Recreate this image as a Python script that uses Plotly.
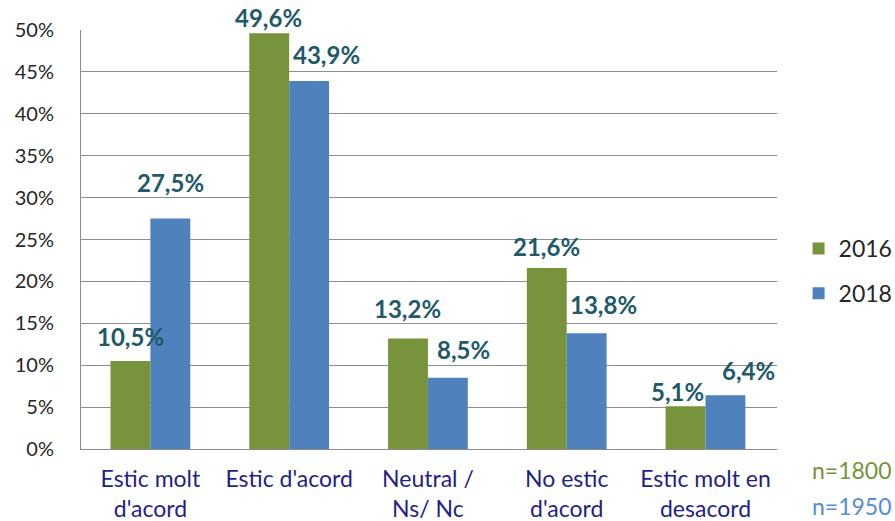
import plotly.graph_objects as go

categories = ["Estic molt<br>d'acord", "Estic d'acord", "Neutral /<br>Ns/ Nc",
              "No estic<br>d'acord", "Estic molt en<br>desacord"]
series_names = ["2016", "2018"]
values_2016 = [0.105, 0.496, 0.132, 0.216, 0.051]
values_2018 = [0.275, 0.439, 0.085, 0.138, 0.064]
labels_2016 = ["10,5%", "49,6%", "13,2%", "21,6%", "5,1%"]
labels_2018 = ["27,5%", "43,9%", "8,5%", "13,8%", "6,4%"]
sample_notes = ["n=1800", "n=1950"]

# label placement tweaks (pixels), styling only
dx_2016 = [0, -1, 0, 0, -8]
dy_2016 = [13, 4, 18, 10, 3]
dx_2018 = [0, 17, 16, 17, 23]
dy_2018 = [25, 15, 17, 17, 13]

GREEN = "#77933C"
BLUE = "#4F81BD"
LABEL = "#215968"
FONT = "Lato, 'Open Sans', sans-serif"

fig = go.Figure()
fig.add_trace(go.Bar(name=series_names[0], x=categories, y=values_2016,
                     marker=dict(color=GREEN, line=dict(width=0)), legendgroup="a"))
fig.add_trace(go.Bar(name=series_names[1], x=categories, y=values_2018,
                     marker=dict(color=BLUE, line=dict(width=0)), legendgroup="b"))

half = 20
anns = []
for vals, labs, dxs, dys, base in [(values_2016, labels_2016, dx_2016, dy_2016, -half),
                                   (values_2018, labels_2018, dx_2018, dy_2018, half)]:
    for c, v, t, dx, dy in zip(categories, vals, labs, dxs, dys):
        anns.append(dict(x=c, y=v, xref="x", yref="y", text=t, showarrow=False,
                         xanchor="center", yanchor="bottom",
                         xshift=base + dx, yshift=dy - 5,
                         font=dict(family=FONT, size=24, color=LABEL, weight="bold")))

anns.append(dict(x=1.047, y=-0.051, xref="paper", yref="paper", text=sample_notes[0],
                 showarrow=False, xanchor="left", yanchor="middle",
                 font=dict(family=FONT, size=23, color="#77933C")))
anns.append(dict(x=1.047, y=-0.135, xref="paper", yref="paper", text=sample_notes[1],
                 showarrow=False, xanchor="left", yanchor="middle",
                 font=dict(family=FONT, size=23, color="#558ED5")))

fig.update_layout(
    width=895, height=521,
    margin=dict(l=81, r=118, t=30, b=72, autoexpand=False),
    paper_bgcolor="white", plot_bgcolor="white",
    barmode="group", bargap=0.4253, bargroupgap=0,
    font=dict(family=FONT, color="#262626"),
    annotations=anns,
    legend=dict(x=1.031, xanchor="left", y=0.53, yanchor="top",
                font=dict(family=FONT, size=23, color="#262626"),
                tracegroupgap=12, itemwidth=30, bgcolor="rgba(0,0,0,0)"),
    showlegend=True,
)
fig.update_yaxes(range=[0, 0.5], dtick=0.05, tickformat=".0%",
                 showgrid=True, gridcolor="#8C8C8C", gridwidth=1,
                 showline=True, linecolor="#8C8C8C", linewidth=1,
                 zeroline=False, ticks="", ticklabelstandoff=22, automargin=False,
                 tickfont=dict(family=FONT, size=20, color="#262626"))
fig.update_xaxes(showline=True, linecolor="#8C8C8C", linewidth=1, ticks="",
                 ticklabelstandoff=9, automargin=False,
                 tickfont=dict(family=FONT, size=23, color="#1F1F87"))

fig.write_html("out.html", config={"displayModeBar": False})

# remove the default page margin so the figure fills the window exactly
with open("out.html", "r", encoding="utf-8") as f:
    html = f.read()
html = html.replace("<head>", "<head><style>html,body{margin:0;padding:0;overflow:hidden}</style>", 1)
with open("out.html", "w", encoding="utf-8") as f:
    f.write(html)
